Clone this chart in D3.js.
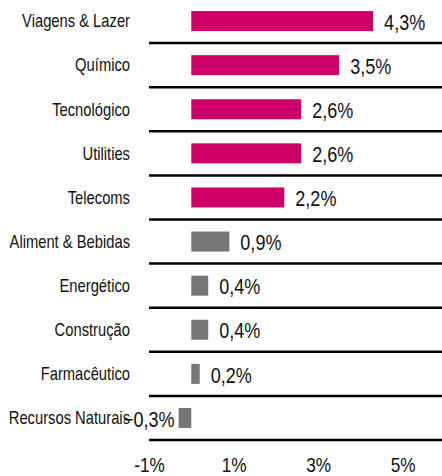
<!DOCTYPE html>
<html>
<head>
<meta charset="utf-8">
<script src="https://cdnjs.cloudflare.com/ajax/libs/d3/7.8.5/d3.min.js"></script>
<style>
  body { margin: 0; background: #fff; }
  svg { display: block; font-family: "Liberation Sans", Arial, sans-serif; }
</style>
</head>
<body>
<div id="chart"></div>
<script>
// sectors and monthly performance (%)
var sectors = ["Viagens & Lazer", "Químico", "Tecnológico", "Utilities", "Telecoms",
               "Aliment & Bebidas", "Energético", "Construção", "Farmacêutico", "Recursos Naturais"];
var values = [4.3, 3.5, 2.6, 2.6, 2.2, 0.9, 0.4, 0.4, 0.2, -0.3];
var highlighted = ["Viagens & Lazer", "Químico", "Tecnológico", "Utilities", "Telecoms"];
var xTicks = [-1, 1, 3, 5];

var w = 442;
var h = 476;
var narrow = 0.82;   //squeeze regular sans to look like a narrow face

var data = sectors.map(function(s, i) { return { sector: s, value: values[i] }; });

var svg = d3.select("#chart")
            .append("svg")
            .attr("width", w)
            .attr("height", h);

var x = d3.scaleLinear()
          .domain([-1, 6])
          .range([149, 445]);

var y = d3.scaleBand()
          .domain(sectors)
          .range([-1, 440]);

var barH = 20;
var fmt = function(v) { return d3.format(".1f")(v).replace(".", ",") + "%"; };

//separator lines under each row
svg.selectAll("line.sep")
   .data(sectors)
   .enter()
   .append("line")
   .attr("class", "sep")
   .attr("x1", x(-1))
   .attr("x2", w)
   .attr("y1", function(d) { return y(d) + y.bandwidth(); })
   .attr("y2", function(d) { return y(d) + y.bandwidth(); })
   .style("stroke", "#000")
   .style("stroke-width", 2.5);

//bars
svg.selectAll("rect.bar")
   .data(data)
   .enter()
   .append("rect")
   .attr("class", "bar")
   .attr("x", function(d) { return x(Math.min(0, d.value)); })
   .attr("y", function(d) { return y(d.sector) + (y.bandwidth() - barH) / 2; })
   .attr("width", function(d) { return Math.abs(x(d.value) - x(0)); })
   .attr("height", barH)
   .style("fill", function(d) {
        return highlighted.indexOf(d.sector) >= 0 ? "#cc0066" : "#767676";
   });

//value labels
svg.selectAll("text.val")
   .data(data)
   .enter()
   .append("text")
   .attr("class", "val")
   .attr("transform", function(d) {
        var tx = d.value >= 0 ? x(d.value) + 11 : x(d.value) - 4;
        var ty = y(d.sector) + y.bandwidth() / 2 + 1;
        return "translate(" + tx + "," + ty + ") scale(" + narrow + ",1)";
   })
   .attr("dy", "0.35em")
   .attr("text-anchor", function(d) { return d.value >= 0 ? "start" : "end"; })
   .style("font-size", "22px")
   .style("fill", "#111")
   .text(function(d) { return fmt(d.value); });

//category labels
svg.selectAll("text.cat")
   .data(sectors)
   .enter()
   .append("text")
   .attr("class", "cat")
   .attr("transform", function(d) {
        return "translate(130," + (y(d) + y.bandwidth() / 2) + ") scale(" + narrow + ",1)";
   })
   .attr("dy", "0.35em")
   .attr("text-anchor", "end")
   .style("font-size", "18px")
   .style("fill", "#111")
   .text(function(d) { return d; });

//x axis (labels only)
var xAxis = d3.axisBottom(x)
              .tickValues(xTicks)
              .tickSize(0)
              .tickPadding(0)
              .tickFormat(function(d) { return d + "%"; });

var gx = svg.append("g")
            .attr("transform", "translate(0," + 457 + ")")
            .call(xAxis);
gx.select(".domain").remove();
gx.selectAll("text")
  .attr("dy", "0.71em")
  .attr("transform", "scale(" + narrow + ",1)")
  .style("font-family", "inherit")
  .style("font-size", "21px")
  .style("fill", "#111");
</script>
</body>
</html>
